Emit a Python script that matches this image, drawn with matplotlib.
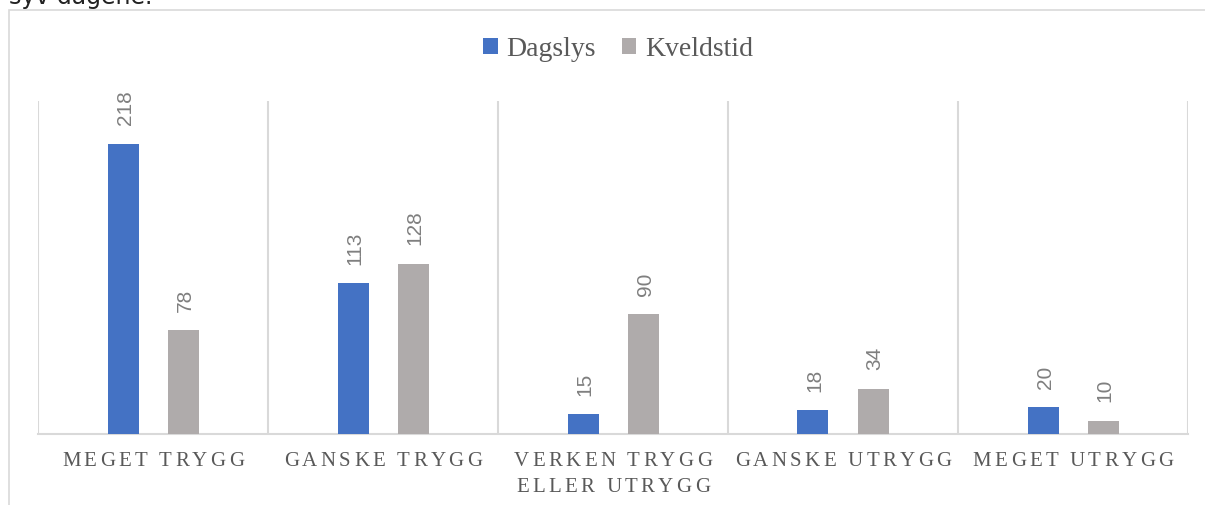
import numpy as np
import matplotlib
matplotlib.use("Agg")
import matplotlib.pyplot as plt
from matplotlib import font_manager
from matplotlib.ft2font import FT2Font
from matplotlib.patches import Rectangle

# data
categories = [["MEGET TRYGG"], ["GANSKE TRYGG"], ["VERKEN TRYGG", "ELLER UTRYGG"],
              ["GANSKE UTRYGG"], ["MEGET UTRYGG"]]
series_names = ["Dagslys", "Kveldstid"]
dagslys = [218, 113, 15, 18, 20]
kveldstid = [78, 128, 90, 34, 10]

blue = "#4472C4"
grey = "#AFABAB"
grid_col = "#D9D9D9"
label_col = "#595959"
value_col = "#7F7F7F"

W, H = 1205, 506
fig = plt.figure(figsize=(W / 100, H / 100), dpi=100)

# outer chart frame
fig.patches.append(Rectangle((9 / W, -0.1), 1.2, (H - 11) / H + 0.1,
                             transform=fig.transFigure, fill=False,
                             edgecolor=grid_col, lw=1.2))
# cut off heading above the chart
fig.text(9 / W, 1 - 4 / H, "syv dagene.", family="DejaVu Sans", fontsize=17,
         color="#222222", ha="left", va="baseline")

ax = fig.add_axes([38 / W, (H - 435) / H, (1188 - 38) / W, (435 - 102) / H])
x = np.arange(len(dagslys))
off = 30 / 230
bw = 31 / 230
b1 = ax.bar(x - off, dagslys, bw, color=blue, label=series_names[0], zorder=3)
b2 = ax.bar(x + off, kveldstid, bw, color=grey, label=series_names[1], zorder=3)

ax.set_xlim(-0.5, len(x) - 0.5)
ax.set_ylim(0, 250)
for s in ["top", "left", "right"]:
    ax.spines[s].set_visible(False)
ax.spines["bottom"].set_color(grid_col)
ax.spines["bottom"].set_linewidth(1.5)
for b in np.arange(-0.5, len(x), 1.0):
    ax.axvline(b, color=grid_col, lw=1.5, zorder=1)
ax.set_xticks([])
ax.set_yticks([])

# value labels
for bars in (b1, b2):
    for r in bars:
        ax.annotate(str(int(r.get_height())),
                    (r.get_x() + r.get_width() / 2, r.get_height()),
                    xytext=(1.5, 14), textcoords="offset points",
                    rotation=90, ha="center", va="bottom",
                    family="Liberation Sans", fontsize=15, color=value_col)

# letter-spaced category labels
fp = font_manager.FontProperties(family="Liberation Serif")
font = FT2Font(font_manager.findfont(fp))
lab_size = 15
font.set_size(lab_size, 72)
try:
    from matplotlib.ft2font import LoadFlags
    flag = LoadFlags.NO_HINTING
except ImportError:
    from matplotlib.ft2font import LOAD_NO_HINTING as flag
track = 2.4  # points


def spaced(xc, text, dy):
    adv = [font.load_char(ord(c), flags=flag).linearHoriAdvance / 65536 for c in text]
    total = sum(adv) + track * (len(text) - 1)
    pos = -total / 2
    for c, a in zip(text, adv):
        if c != " ":
            ax.annotate(c, (xc, 0), xycoords=("data", "axes fraction"),
                        xytext=(pos + a / 2, -dy), textcoords="offset points",
                        ha="center", va="baseline", family="Liberation Serif",
                        fontsize=lab_size, color=label_col, annotation_clip=False)
        pos += a + track


for i, lines in enumerate(categories):
    for j, line in enumerate(lines):
        spaced(i, line, 22.5 + j * 18.7)

fig.legend(handles=[b1, b2], loc="center", bbox_to_anchor=(618 / W, 1 - 50 / H),
           ncol=2, frameon=False, prop={"family": "Liberation Serif", "size": 20},
           labelcolor=label_col, handlelength=0.52, handleheight=0.52,
           handletextpad=0.3, columnspacing=0.95)

fig.savefig("out.png", dpi=100)
